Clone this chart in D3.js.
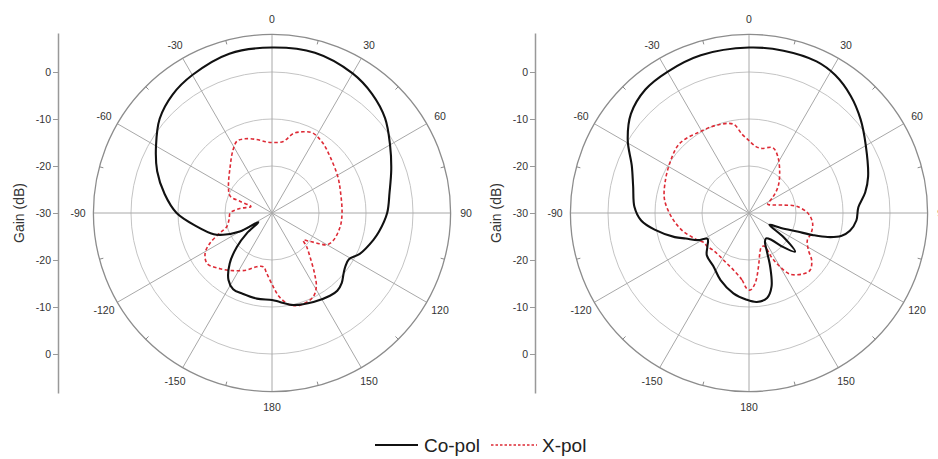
<!DOCTYPE html>
<html>
<head>
<meta charset="utf-8">
<script src="https://cdn.jsdelivr.net/npm/d3@7"></script>
<style>
  body { margin: 0; background: #fff; }
  svg { font-family: "Liberation Sans", Arial, sans-serif; }
</style>
</head>
<body>
<div id="vis"></div>
<script>
// chart values, [angle in degrees, gain in dB]
let angleLabels = [0, 30, 60, 90, 120, 150, 180, -150, -120, -90, -60, -30];
let gainTicks = [0, -10, -20, -30, -20, -10, 0];
let ringGains = [-20, -10, 0];

let leftCoPol = [
  [-170, -11.5], [-160, -11.7], [-153, -11.8], [-147, -13], [-140, -16], [-134, -19.6],
  [-129, -23.1], [-124, -26.5], [-120, -22.1], [-114, -18.6], [-110, -16.8], [-100, -13.7],
  [-90, -9.7], [-80, -6.8], [-70, -4.0], [-60, -1.5], [-50, 1.2], [-40, 2.9], [-30, 3.9],
  [-15, 5.1], [0, 5.2], [15, 5.3], [30, 4.3], [40, 3.1], [50, 1.4], [60, -1.0], [70, -3.0],
  [80, -4.6], [90, -5.5], [100, -6.9], [105, -7.7], [115, -9.4], [121, -10.9], [126, -10.7],
  [130, -10.1], [135, -9.0], [140, -8.4], [145, -8.5], [155, -9.1], [167, -9.9], [175, -11],
  [180, -11.5]
];
let leftXPol = [
  [-175, -17.1], [-171, -18.4], [-164, -18.1], [-156, -16.7], [-146, -15.2], [-137, -13.8],
  [-128, -12.5], [-121, -13.4], [-116, -15.3], [-111, -18.1], [-107, -19.9], [-98, -20.8],
  [-90, -21.1], [-82, -23.1], [-73, -25.3], [-70, -22.8], [-68, -20.4], [-59, -19.2],
  [-42, -16.7], [-32, -14.3], [-26, -13.0], [-20, -13.2], [-12, -14.0], [-5, -14.8],
  [1, -15.0], [9, -14.6], [15, -12.5], [21, -11.5], [27, -10.9], [36, -11.6], [46, -12.8],
  [61, -14.0], [74, -14.8], [90, -15.1], [101, -15.2], [114, -15.7], [120, -16.5],
  [123, -18.0], [127, -20.0], [131, -21.2], [134, -19.8], [139, -17.7], [145, -14.2],
  [149, -11.7], [154, -10.1], [163, -9.5], [169, -10.1], [175, -12.1], [179, -14.3]
];
let rightCoPol = [
  [-178, -11.6], [-169, -12.6], [-157, -14.5], [-146, -16.4], [-135, -17.3], [-129, -18.6],
  [-122, -19.6], [-118, -17.7], [-112, -15.5], [-108, -13.4], [-100, -9.6], [-94, -7.0],
  [-87, -5.6], [-77, -4.7], [-68, -3.1], [-59, 0.1], [-50, 2.8], [-40, 4.3], [-30, 4.7],
  [-17, 5.1], [0, 5.2], [12, 5.3], [24, 5.3], [32, 4.6], [41, 3.0], [50, 1.0], [60, -1.3],
  [73, -3.5], [80, -4.9], [87, -6.7], [94, -7.1], [100, -8.2], [104, -9.8], [107, -12.5],
  [109, -15.5], [111, -19], [115, -22.5], [120, -25], [125, -21], [130, -17.2], [135, -19.8],
  [140, -22.5], [146, -23.5], [151, -23], [155, -21], [158.5, -17.7], [163, -13.6],
  [168, -11.5], [175, -11.0]
];
let rightXPol = [
  [-178, -14], [-174, -15.7], [-165, -17.4], [-156, -18.3], [-146, -18.9], [-136, -19],
  [-128, -18.6], [-124, -18.6], [-115, -17.2], [-104, -15.2], [-93, -13.5], [-81, -11.8],
  [-70, -11.0], [-58, -10.1], [-45, -9.1], [-31, -9.8], [-20, -10.1], [-10, -10.8],
  [-5, -13.2], [0, -14.6], [6, -15.8], [11, -16], [20, -15.2], [27, -16.5], [38, -19.4],
  [48, -21.7], [56, -23.8], [65, -25.6], [69, -25.2], [77, -22.5], [82, -19.8], [90, -17.5],
  [99, -16.3], [108, -16.1], [115, -16.3], [122, -15.1], [127, -13.3], [133, -12.2],
  [138, -12.6], [146, -14.3], [150, -16.8], [153, -19.5], [155, -22.2], [160, -22.3],
  [165, -21.1], [170, -18.4], [175, -15], [179, -13.6]
];

let width = 938, height = 459;
let R = 178.6;          // radius of outer ring (+8 dB)
let labelR = 194;

let svg = d3.select('#vis')
  .append('svg')
  .attr('width', width)
  .attr('height', height);

let r = d3.scaleLinear().domain([-30, 8]).range([0, R]).clamp(true);
let rad = d => d * Math.PI / 180;

function drawPolar(cx, cy, co, xp) {
  let g = svg.append('g').attr('transform', `translate(${cx},${cy})`);

  // rings
  g.selectAll('.ring')
    .data(ringGains)
    .enter()
    .append('circle')
      .attr('r', d => r(d))
      .attr('fill', 'none')
      .attr('stroke', '#c4c4c4')
      .attr('stroke-width', 1);

  // spokes every 30 deg
  g.selectAll('.spoke')
    .data(d3.range(0, 360, 30))
    .enter()
    .append('line')
      .attr('x1', 0).attr('y1', 0)
      .attr('x2', d => R * Math.sin(rad(d)))
      .attr('y2', d => -R * Math.cos(rad(d)))
      .attr('stroke', '#a8a8a8')
      .attr('stroke-width', 1);

  // outer ring
  g.append('circle')
    .attr('r', R)
    .attr('fill', 'none')
    .attr('stroke', '#8c8c8c')
    .attr('stroke-width', 1.3);

  // minor ticks on outer ring
  g.selectAll('.minor')
    .data(d3.range(15, 360, 30))
    .enter()
    .append('line')
      .attr('x1', d => R * Math.sin(rad(d)))
      .attr('y1', d => -R * Math.cos(rad(d)))
      .attr('x2', d => (R - 4) * Math.sin(rad(d)))
      .attr('y2', d => -(R - 4) * Math.cos(rad(d)))
      .attr('stroke', '#8c8c8c')
      .attr('stroke-width', 1);

  // angle labels
  g.selectAll('.alabel')
    .data(angleLabels)
    .enter()
    .append('text')
      .attr('x', d => labelR * Math.sin(rad(d)))
      .attr('y', d => -labelR * Math.cos(rad(d)))
      .attr('text-anchor', 'middle')
      .attr('dominant-baseline', 'central')
      .style('font-size', '10.5px')
      .style('fill', '#333')
      .text(d => d);

  // traces
  let line = d3.lineRadial()
    .angle(d => rad(d[0]))
    .radius(d => r(d[1]))
    .curve(d3.curveCatmullRomClosed.alpha(0.5));

  g.append('path')
    .datum(xp)
    .attr('d', line)
    .attr('fill', 'none')
    .attr('stroke', '#dd2a35')
    .attr('stroke-width', 1.6)
    .attr('stroke-dasharray', '3.5,2.5');

  g.append('path')
    .datum(co)
    .attr('d', line)
    .attr('fill', 'none')
    .attr('stroke', '#111')
    .attr('stroke-width', 2.1);

  // gain axis on the left
  let y = d3.scaleLinear().domain([-38.3, 38.3]).range([R + 1.4, -R - 1.4]);
  let axis = g.append('g')
    .attr('transform', `translate(-214,0)`)
    .call(d3.axisLeft(y)
      .tickValues([30, 20, 10, 0, -10, -20, -30])
      .tickFormat((d, i) => gainTicks[i])
      .tickSize(5)
      .tickSizeOuter(0));
  axis.select('.domain').attr('stroke', '#999').attr('stroke-width', 1.5);
  axis.selectAll('.tick line').attr('stroke', '#999');
  axis.selectAll('.tick text')
    .attr('x', -7)
    .style('font-size', '10.5px')
    .style('font-family', '"Liberation Sans", Arial, sans-serif')
    .style('fill', '#333');

  g.append('text')
    .attr('transform', 'translate(-253,0) rotate(-90)')
    .attr('text-anchor', 'middle')
    .attr('dominant-baseline', 'central')
    .style('font-size', '14px')
    .style('fill', '#333')
    .text('Gain (dB)');
}

drawPolar(272, 213, leftCoPol, leftXPol);
drawPolar(749, 213, rightCoPol, rightXPol);

// legend
let legend = svg.append('g').attr('transform', 'translate(0,445)');
legend.append('line')
  .attr('x1', 375).attr('x2', 418).attr('y1', 0).attr('y2', 0)
  .attr('stroke', '#111').attr('stroke-width', 2);
legend.append('text')
  .attr('x', 424).attr('y', 0)
  .attr('dominant-baseline', 'central')
  .style('font-size', '19px').style('fill', '#222')
  .text('Co-pol');
legend.append('line')
  .attr('x1', 491).attr('x2', 537).attr('y1', 0).attr('y2', 0)
  .attr('stroke', '#dd2a35').attr('stroke-width', 1.3)
  .attr('stroke-dasharray', '2.5,2');
legend.append('text')
  .attr('x', 542).attr('y', 0)
  .attr('dominant-baseline', 'central')
  .style('font-size', '19px').style('fill', '#222')
  .text('X-pol');
</script>
</body>
</html>
